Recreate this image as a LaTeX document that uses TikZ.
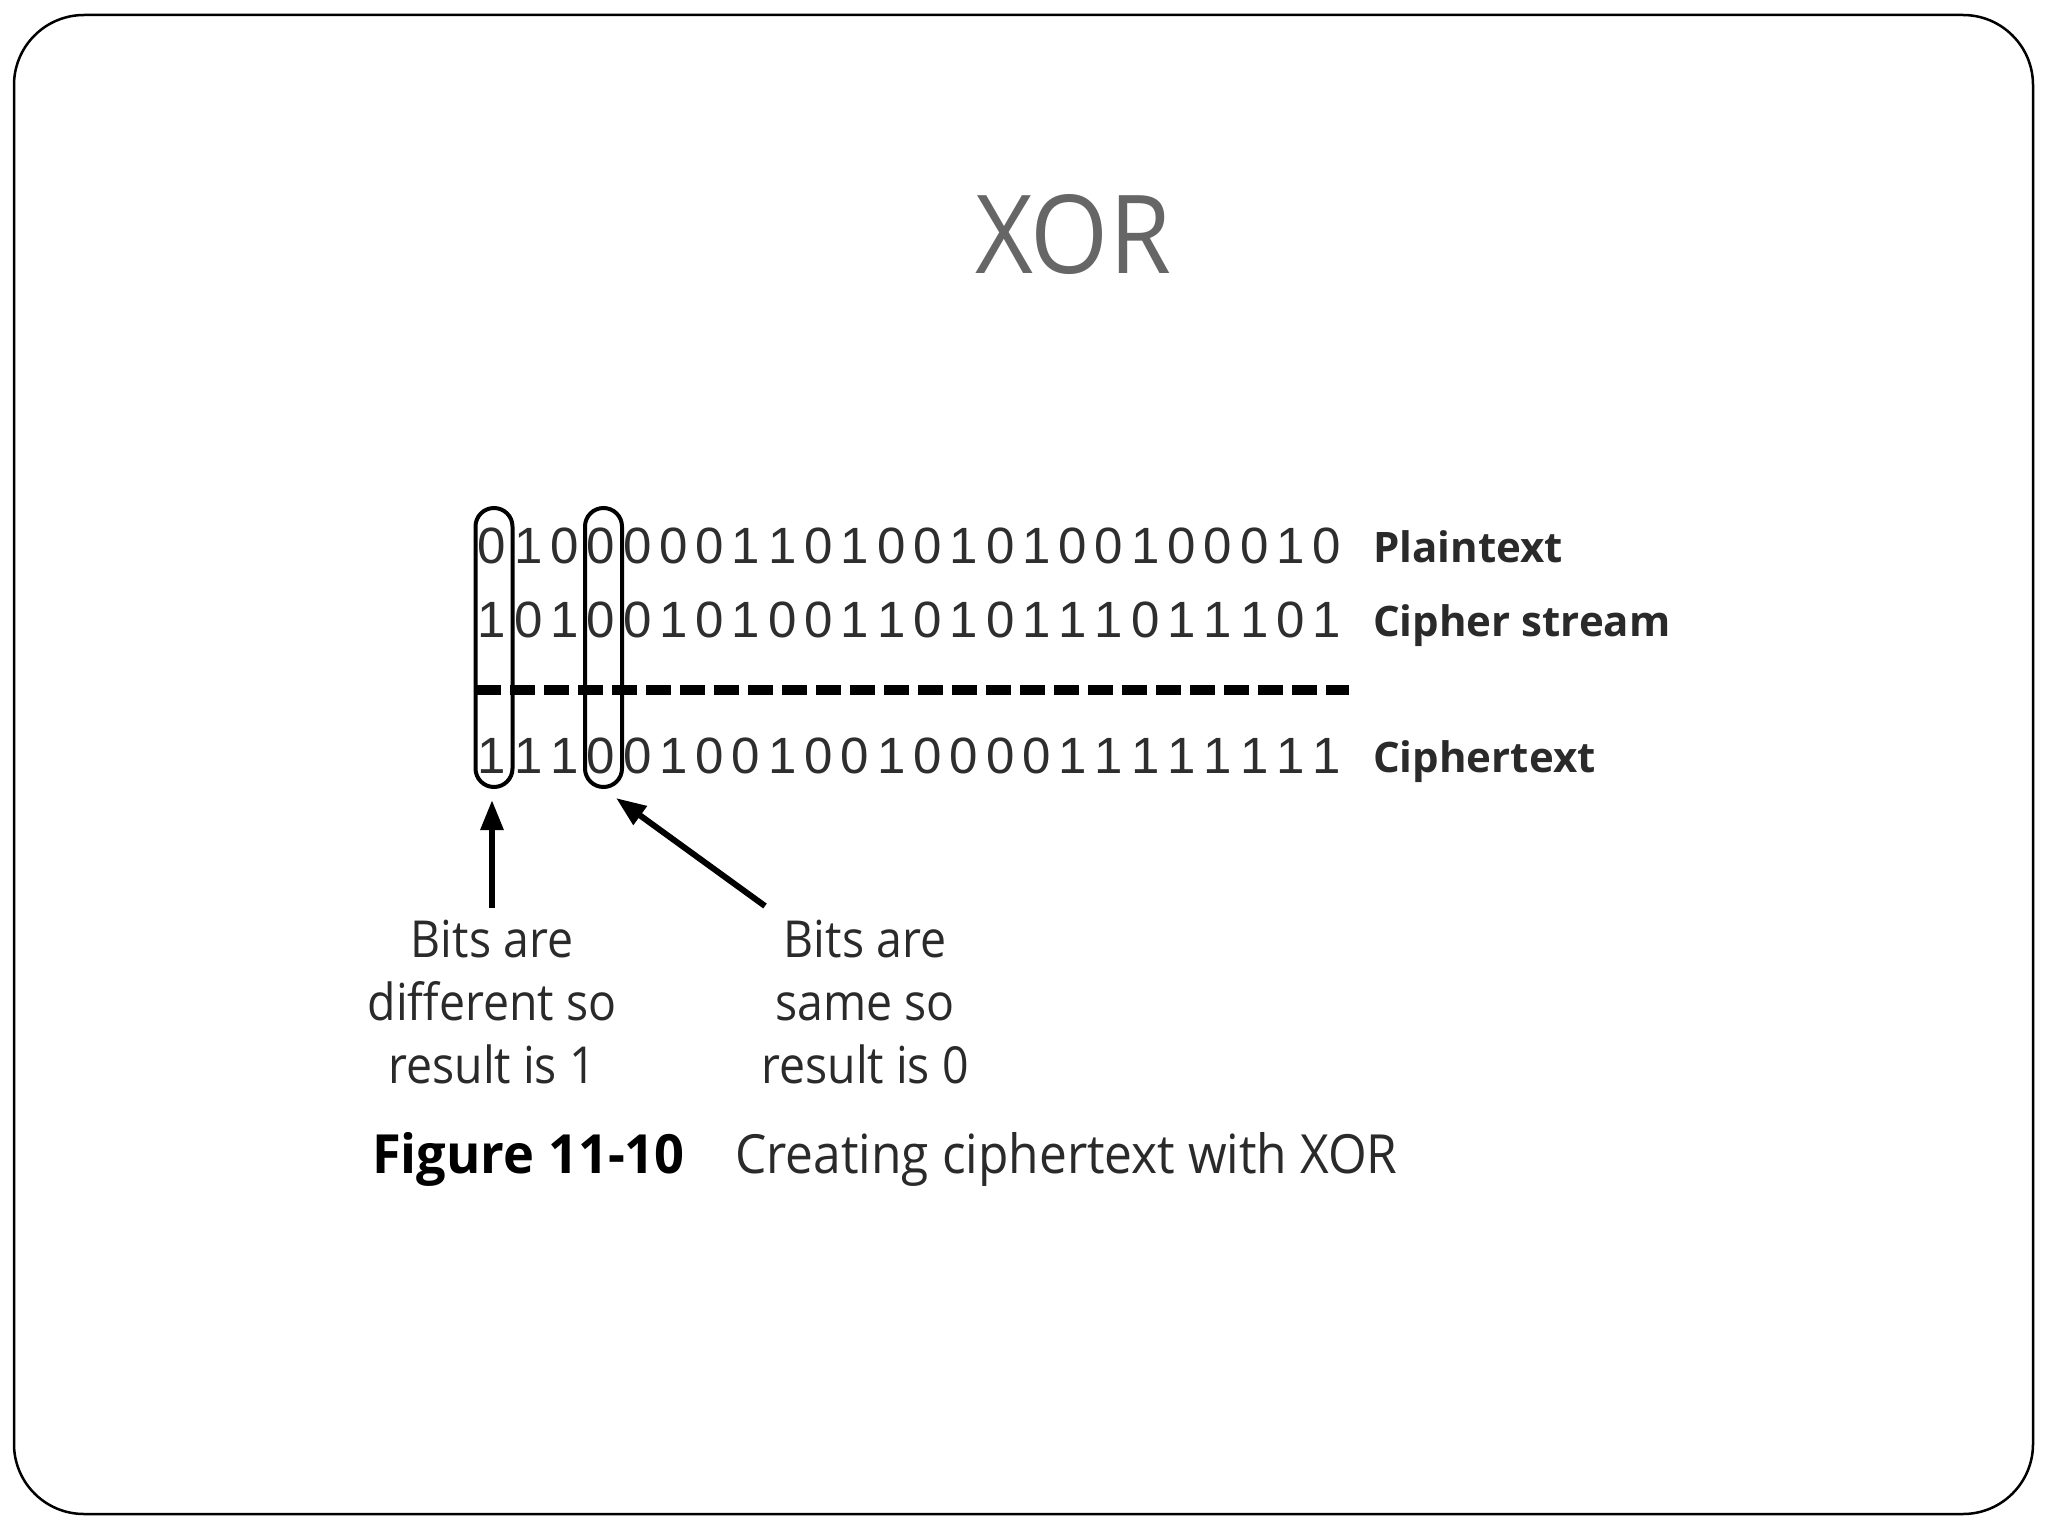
\documentclass[tikz,border=0pt]{standalone}
\usepackage{fontspec}
\setmainfont{Open Sans}
\newfontfamily\titlefont[FakeStretch=0.92]{Open Sans}
\newfontfamily\bitfont{Liberation Sans}
\newfontfamily\labfont[FakeStretch=0.91]{Open Sans}
\newfontfamily\figfont[FakeStretch=0.97]{Open Sans}
\newfontfamily\capfont[FakeStretch=0.92]{Open Sans}
\usetikzlibrary{arrows.meta}
\definecolor{titlegray}{HTML}{666666}
\definecolor{bitgray}{HTML}{2E2E2E}
\definecolor{labgray}{HTML}{2A2A2A}
\tikzset{
  bit/.style={anchor=base, inner sep=0pt, text=bitgray, font=\bitfont\fontsize{51}{60}\selectfont},
  rowlab/.style={anchor=base west, inner sep=0pt, text=labgray, font=\bfseries\fontsize{42}{48}\selectfont},
  oval/.style={draw=black, line width=4pt, minimum width=37pt, minimum height=279pt, rounded corners=18.5pt, inner sep=0pt},
  note/.style={anchor=base, inner sep=0pt, text=labgray, font=\labfont\fontsize{51}{60}\selectfont},
  arr/.style={line width=6pt, -{Triangle[length=30pt,width=22pt]}},
  frame/.style={draw=black, line width=2.5pt, rounded corners=70pt}
}
\begin{document}
\begin{tikzpicture}[x=1pt,y=-1pt]
\useasboundingbox (0,0) rectangle (2048,1536);
\fill[white] (0,0) rectangle (2048,1536);
\draw[frame] (14,15) rectangle (2033,1514);
\node[anchor=base, inner sep=0pt, text=titlegray, font=\titlefont\fontsize{109}{120}\selectfont] (title) at (1073,273) {XOR};
% bit rows
\foreach \d [count=\i from 0] in {0,1,0,0,0,0,0,1,1,0,1,0,0,1,0,1,0,0,1,0,0,0,1,0}
  \node[bit] (ra\i) at (492+\i*36.3,563) {\d};
\foreach \d [count=\i from 0] in {1,0,1,0,0,1,0,1,0,0,1,1,0,1,0,1,1,1,0,1,1,1,0,1}
  \node[bit] (rb\i) at (492+\i*36.3,637) {\d};
\foreach \d [count=\i from 0] in {1,1,1,0,0,1,0,0,1,0,0,1,0,0,0,0,1,1,1,1,1,1,1,1}
  \node[bit] (rc\i) at (492+\i*36.3,773) {\d};
\node[rowlab] (plain) at (1373,562) {Plaintext};
\node[rowlab] (stream) at (1373,636) {Cipher stream};
\node[rowlab] (ctext) at (1373,772) {Ciphertext};
% dashed rule
\coordinate (dl) at (476,690);
\coordinate (dr) at (1349,690);
\draw[line width=10pt, dash pattern=on 25pt off 9pt] (dl) -- (dr);
% ovals
\node[oval] (ov1) at (494,647.5) {};
\node[oval] (ov2) at (603.5,647.5) {};
% notes
\node[note] (n1a) at (492,957) {Bits are};
\node[note] (n1b) at (492,1020) {different so};
\node[note] (n1c) at (492,1083) {result is 1};
\node[note] (n2a) at (865,957) {Bits are};
\node[note] (n2b) at (865,1020) {same so};
\node[note] (n2c) at (865,1083) {result is 0};
% arrows
\coordinate (t1) at (492,908);
\coordinate (h1) at (492,800);
\coordinate (t2) at (765,906);
\coordinate (h2) at (616,798);
\draw[arr] (t1) -- (h1);
\draw[arr] (t2) -- (h2);
% caption
\node[anchor=base west, inner sep=0pt, font=\figfont\bfseries\fontsize{54}{60}\selectfont] (fig) at (372,1173) {Figure 11-10};
\node[anchor=base west, inner sep=0pt, text=labgray, font=\capfont\fontsize{54}{60}\selectfont] (cap) at (735,1173) {Creating ciphertext with XOR};
\end{tikzpicture}
\end{document}
